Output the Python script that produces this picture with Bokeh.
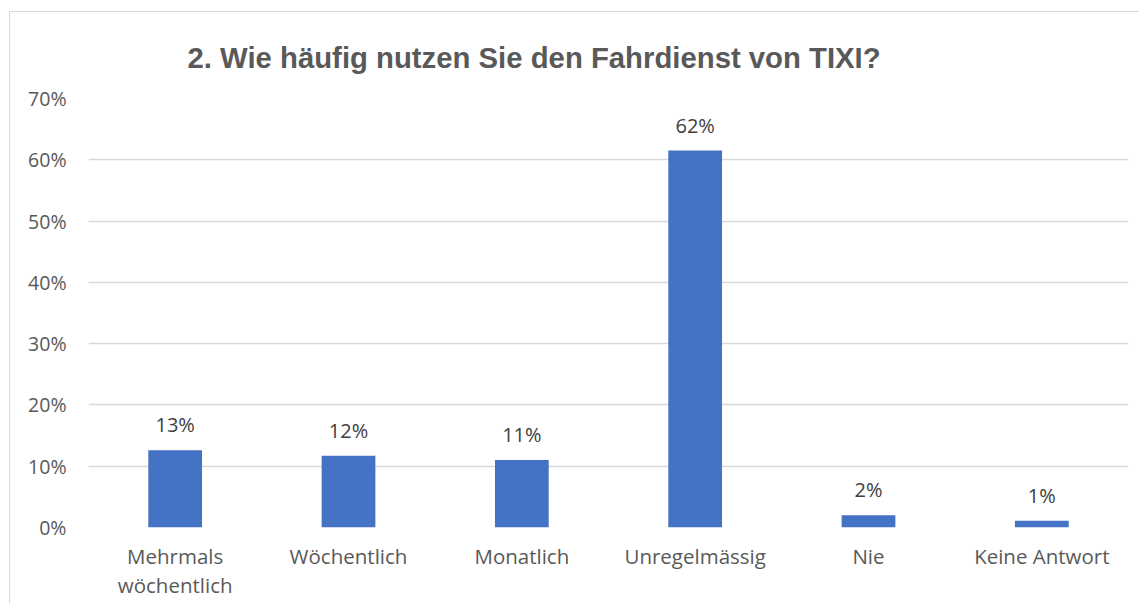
from bokeh.plotting import figure
from bokeh.models import ColumnDataSource, NumeralTickFormatter, FixedTicker, Range1d, Title
from bokeh.embed import file_html
from bokeh.resources import INLINE
from bokeh.core.properties import value

title_text = "2. Wie häufig nutzen Sie den Fahrdienst von TIXI?"
categories = ["Mehrmals\nwöchentlich", "Wöchentlich", "Monatlich", "Unregelmässig", "Nie", "Keine Antwort"]
shares = [0.126, 0.117, 0.110, 0.615, 0.020, 0.011]
labels = ["13%", "12%", "11%", "62%", "2%", "1%"]
y_ticks = [0.0, 0.1, 0.2, 0.3, 0.4, 0.5, 0.6, 0.7]

src = ColumnDataSource(dict(cat=categories, val=shares, lab=labels))

p = figure(x_range=categories, y_range=Range1d(0, 0.7), width=1130, height=592,
           output_backend="svg", toolbar_location=None,
           min_border_left=78, min_border_right=12, min_border_top=86, min_border_bottom=77,
           styles={"border-top": "1px solid #d9d9d9", "border-left": "1px solid #d9d9d9",
                   "margin-left": "9px", "margin-top": "11px"})
p.outline_line_color = None
p.background_fill_color = "white"
p.border_fill_color = "white"

t = Title(text=title_text, align="left", offset=99,
          text_font="Liberation Sans", text_font_size="29.3px", text_font_style="bold",
          text_color="#595959", standoff=49)
p.add_layout(t, "above")

p.vbar(x="cat", top="val", width=0.31, source=src, color="#4472C4", line_color=None)
p.text(x="cat", y="val", text="lab", source=src, text_align="center", text_baseline="bottom",
       y_offset=-12, text_font=value("Open Sans"), text_font_size="20px", text_color="#404040")

p.yaxis.ticker = FixedTicker(ticks=y_ticks)
p.yaxis.formatter = NumeralTickFormatter(format="0%")
for ax in (p.xaxis, p.yaxis):
    ax.axis_line_color = None
    ax.major_tick_line_color = None
    ax.minor_tick_line_color = None
    ax.major_label_text_font = "Open Sans"
    ax.major_label_text_color = "#595959"
p.xaxis.major_label_text_font_size = "20.5px"
p.xaxis.major_label_text_line_height = 1.05
p.yaxis.major_label_text_font_size = "19.5px"
p.yaxis.major_label_standoff = 16
p.xaxis.major_label_standoff = 8
p.xgrid.grid_line_color = None
p.ygrid.grid_line_color = "#d9d9d9"
p.ygrid.grid_line_width = 1.5
p.ygrid.ticker = FixedTicker(ticks=y_ticks)

open("out.html", "w").write(file_html(p, INLINE))
